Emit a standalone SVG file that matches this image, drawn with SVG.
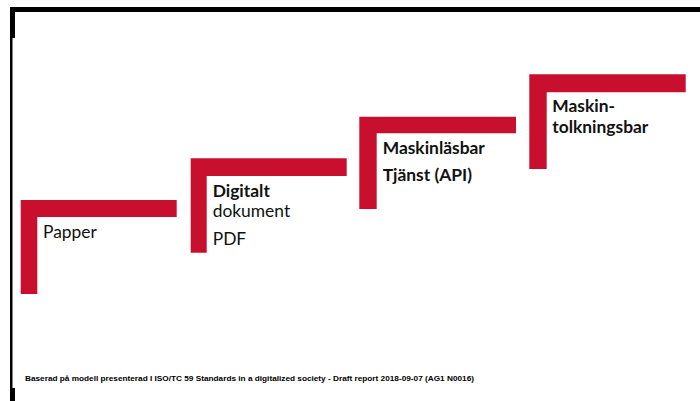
<svg xmlns="http://www.w3.org/2000/svg" width="700" height="401" viewBox="0 0 700 401">
<style>
.step{fill:#C8102E}
.t{font-family:Lato,"Liberation Sans",sans-serif;font-size:17.4px;fill:#111}
.b{font-weight:bold}
.foot{font-family:"Liberation Sans",Arial,sans-serif;font-size:7px;font-weight:bold;fill:#000}
</style>
<rect width="700" height="401" fill="#fff"/>
<g id="frame" fill="#000">
<rect x="10" y="7" width="690" height="5"/>
<rect x="10" y="7" width="5" height="31"/>
<rect x="10" y="7" width="2.5" height="394"/>
<rect x="10" y="388" width="5" height="13"/>
</g>
<g id="step1">
<path class="step" d="M20.7 200H176.7V217H37.3V294H20.7Z"/>
<text class="t" x="43" y="238" font-size="18.5">Papper</text>
</g>
<g id="step2">
<path class="step" d="M190.7 158.3H346.7V176H206.7V252.7H190.7Z"/>
<text class="t b" x="212.7" y="196.7">Digitalt</text>
<text class="t" x="212.7" y="217">dokument</text>
<text class="t" x="212.7" y="244.5">PDF</text>
</g>
<g id="step3">
<path class="step" d="M359.3 116.7H516V133.3H376.7V209H359.3Z"/>
<text class="t b" x="382.7" y="153.5">Maskinläsbar</text>
<text class="t b" x="382.7" y="181">Tjänst (API)</text>
</g>
<g id="step4">
<path class="step" d="M529.3 74.3H685.7V92.3H546.7V169H529.3Z"/>
<text class="t b" x="552.3" y="111.7">Maskin-</text>
<text class="t b" x="552.3" y="132.7">tolkningsbar</text>
</g>
<text class="foot" x="25" y="381" textLength="449" lengthAdjust="spacingAndGlyphs">Baserad på modell  presenterad  I ISO/TC 59 Standards  in a digitalized  society - Draft report 2018-09-07  (AG1 N0016)</text>
</svg>
